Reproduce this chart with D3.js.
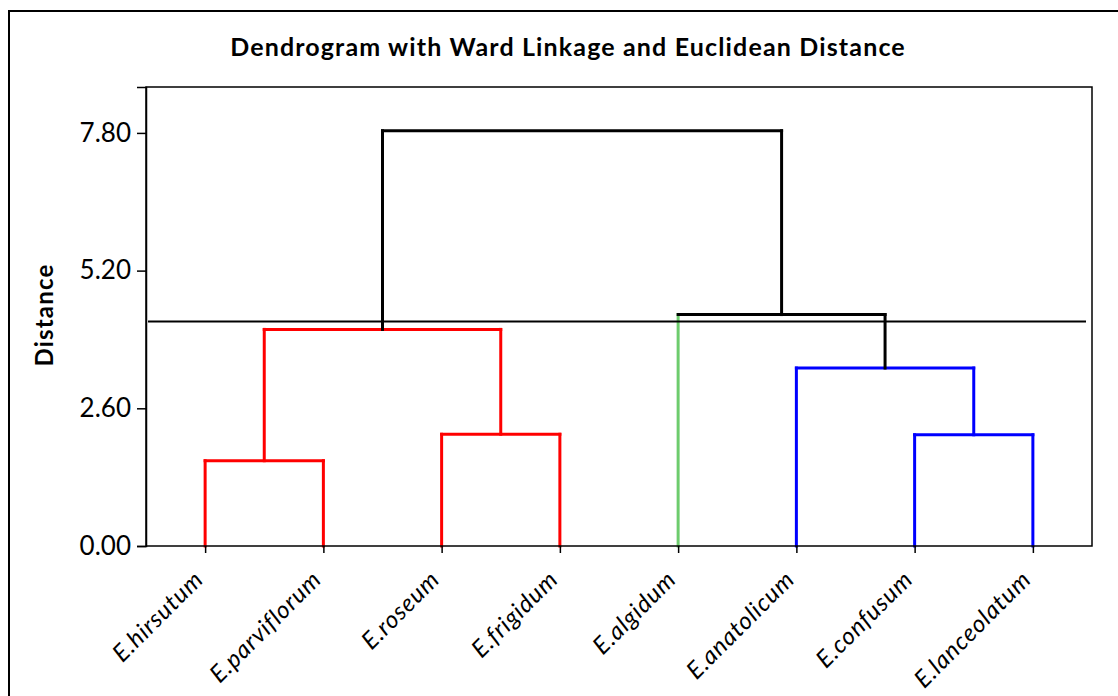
<!DOCTYPE html>
<html lang="en">
<head>
    <meta charset="UTF-8">
    <title>Dendrogram</title>
    <style>
        body { margin: 0; background: #fff; }
        text { font-family: Lato, "Open Sans", sans-serif; }
    </style>
</head>
<body>
<script src="https://cdn.jsdelivr.net/npm/d3@7/dist/d3.min.js"></script>
<script>
    // Leaves in display order
    const leaves = ["E.hirsutum", "E.parviflorum", "E.roseum", "E.frigidum",
                    "E.algidum", "E.anatolicum", "E.confusum", "E.lanceolatum"];
    // Colour of each leaf's cluster
    const leafColors = ["#ff0000", "#ff0000", "#ff0000", "#ff0000",
                        "#6dcc6d", "#0000ff", "#0000ff", "#0000ff"];
    // Linkage: [child A, child B, height]; new clusters get ids 8, 9, ...
    const mergeLeft   = [0, 2, 6, 5, 8, 4, 12];
    const mergeRight  = [1, 3, 7, 10, 9, 11, 13];
    const mergeHeight = [1.61, 2.11, 2.10, 3.36, 4.09, 4.37, 7.84];
    const mergeColors = ["#ff0000", "#ff0000", "#0000ff", "#0000ff", "#ff0000", "#000", "#000"];
    const cutoff = 4.24;
    const yTicks = [0, 2.6, 5.2, 7.8];
    const yMax = 8.667;

    var margin = {top: 87, right: 26, bottom: 150, left: 146},
        width = 1118 - margin.left - margin.right,
        height = 696 - margin.top - margin.bottom;

    var xScale = d3.scalePoint().domain(leaves).range([0, width]).padding(0.5);
    var yScale = d3.scaleLinear().domain([0, yMax]).range([height, 0]);

    var svg = d3.select("body").append("svg")
        .attr("width", 1118)
        .attr("height", 696);

    // outer frame (only left and top edges fall inside the picture)
    svg.append("path")
        .attr("d", "M9,700V11H1122")
        .attr("fill", "none")
        .attr("stroke", "#000")
        .attr("stroke-width", 2);

    svg.append("text")
        .attr("x", 568)
        .attr("y", 56)
        .attr("text-anchor", "middle")
        .attr("font-weight", "bold")
        .attr("font-size", 25)
        .attr("letter-spacing", 1.15)
        .text("Dendrogram with Ward Linkage and Euclidean Distance");

    var g = svg.append("g")
        .attr("transform", "translate(" + margin.left + "," + margin.top + ")");

    // node positions: leaves first, then merges
    var nodeX = leaves.map(d => xScale(d));
    var nodeH = leaves.map(() => 0);
    mergeHeight.forEach((h, i) => {
        nodeX.push((nodeX[mergeLeft[i]] + nodeX[mergeRight[i]]) / 2);
        nodeH.push(h);
    });

    var links = mergeHeight.map((h, i) => {
        var a = mergeLeft[i], b = mergeRight[i];
        var col = mergeColors[i];
        var stemColor = c => (c < leaves.length && col === "#000") ? leafColors[c] : col;
        return [
            {x1: nodeX[a], y1: nodeH[a], x2: nodeX[a], y2: h, color: stemColor(a)},
            {x1: nodeX[b], y1: nodeH[b], x2: nodeX[b], y2: h, color: stemColor(b)},
            {x1: nodeX[a], y1: h, x2: nodeX[b], y2: h, color: col}
        ];
    }).flat();

    g.append("g")
        .selectAll("line")
        .data(links)
        .join("line")
            .attr("x1", d => d.x1)
            .attr("x2", d => d.x2)
            .attr("y1", d => yScale(d.y1))
            .attr("y2", d => yScale(d.y2))
            .attr("stroke", d => d.color)
            .attr("stroke-width", 3)
            .attr("stroke-linecap", "square");

    // cutoff line
    g.append("line")
        .attr("x1", 2)
        .attr("x2", width - 6)
        .attr("y1", yScale(cutoff))
        .attr("y2", yScale(cutoff))
        .attr("stroke", "#000")
        .attr("stroke-width", 2);

    // plot frame
    g.append("rect")
        .attr("width", width)
        .attr("height", height)
        .attr("fill", "none")
        .attr("stroke", "#000")
        .attr("stroke-width", 1.5);

    var yAxis = g.append("g")
        .call(d3.axisLeft(yScale).tickValues(yTicks).tickFormat(d3.format(".2f")).tickSize(9).tickPadding(6));
    yAxis.select(".domain").attr("stroke-width", 1.5);
    yAxis.selectAll("line").attr("stroke-width", 1.5);
    yAxis.selectAll("text")
        .attr("font-family", "Lato")
        .attr("font-size", 26)
        .attr("fill", "#000");

    var xAxis = g.append("g")
        .attr("transform", `translate(0,${height})`)
        .call(d3.axisBottom(xScale).tickSize(7).tickSizeOuter(0));
    xAxis.select(".domain").remove();
    xAxis.selectAll("line").attr("stroke-width", 1.5);
    xAxis.selectAll("text")
        .attr("font-family", "Lato")
        .attr("font-size", 24)
        .attr("font-style", "italic")
        .attr("letter-spacing", 0.9)
        .attr("fill", "#000")
        .attr("text-anchor", "end")
        .attr("x", 0)
        .attr("y", 0)
        .attr("dy", 0)
        .attr("transform", "translate(-1,35)rotate(-45)");

    svg.append("text")
        .attr("transform", "translate(53,315)rotate(-90)")
        .attr("text-anchor", "middle")
        .attr("font-weight", "bold")
        .attr("font-size", 24)
        .attr("letter-spacing", 1.2)
        .text("Distance");
</script>
</body>
</html>
